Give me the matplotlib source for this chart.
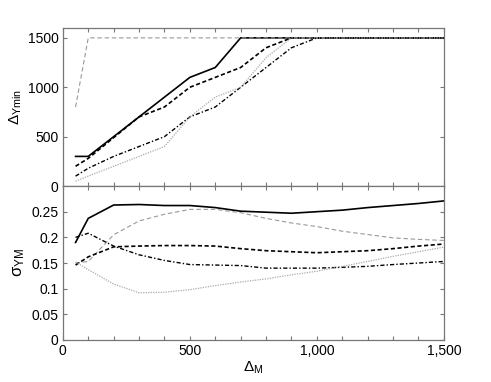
import matplotlib
matplotlib.use("Agg")
import matplotlib.pyplot as plt
from matplotlib.ticker import FixedLocator

plt.rcParams['font.family'] = ['Liberation Sans', 'DejaVu Sans']
plt.rcParams['mathtext.fontset'] = 'custom'
plt.rcParams['mathtext.rm'] = 'Liberation Sans'
plt.rcParams['mathtext.it'] = 'Liberation Sans'
plt.rcParams['mathtext.bf'] = 'Liberation Sans'

x = [50, 100, 200, 300, 400, 500, 600, 700, 800, 900, 1000, 1100, 1200, 1300, 1400, 1500]

# Top panel: Delta_Ymin
top_solid = [300, 300, 500, 700, 900, 1100, 1200, 1500, 1500, 1500, 1500, 1500, 1500, 1500, 1500, 1500]
top_gray_dashed = [800, 1500, 1500, 1500, 1500, 1500, 1500, 1500, 1500, 1500, 1500, 1500, 1500, 1500, 1500, 1500]
top_dashed = [200, 280, 490, 700, 800, 1000, 1100, 1200, 1400, 1500, 1500, 1500, 1500, 1500, 1500, 1500]
top_dashdot = [100, 180, 300, 400, 500, 700, 800, 1000, 1200, 1400, 1500, 1500, 1500, 1500, 1500, 1500]
top_dotted = [50, 100, 200, 300, 400, 700, 900, 1000, 1300, 1500, 1500, 1500, 1500, 1500, 1500, 1500]

# Bottom panel: sigma_YM
bot_solid = [0.19, 0.237, 0.263, 0.264, 0.262, 0.262, 0.258, 0.251, 0.249, 0.247, 0.25, 0.253, 0.258, 0.262, 0.266, 0.271]
bot_gray_dashed = [0.15, 0.153, 0.205, 0.232, 0.245, 0.2545, 0.2545, 0.248, 0.237, 0.228, 0.221, 0.212, 0.2055, 0.199, 0.196, 0.194]
bot_dashed = [0.146, 0.162, 0.1815, 0.183, 0.184, 0.184, 0.183, 0.178, 0.174, 0.172, 0.170, 0.172, 0.174, 0.178, 0.183, 0.187]
bot_dashdot = [0.200, 0.208, 0.183, 0.166, 0.155, 0.147, 0.146, 0.145, 0.140, 0.140, 0.140, 0.1416, 0.1435, 0.147, 0.150, 0.153]
bot_dotted = [0.152, 0.137, 0.109, 0.092, 0.093, 0.098, 0.106, 0.113, 0.119, 0.127, 0.134, 0.1435, 0.153, 0.163, 0.172, 0.181]

top_yticks = [0, 500, 1000, 1500]
bot_yticks = [0, 0.05, 0.1, 0.15, 0.2, 0.25]
bot_yticklabels = ['0', '0.05', '0.1', '0.15', '0.2', '0.25']
xticks_major = [0, 500, 1000, 1500]
xticklabels = ['0', '500', '1,000', '1,500']
xticks_minor = list(range(0, 1600, 100))

fig = plt.figure(figsize=(4.91, 3.82), dpi=100)
ax1 = fig.add_axes([0.128, 0.513, 0.776, 0.4137])
ax2 = fig.add_axes([0.128, 0.110, 0.776, 0.403])

styles = [
    dict(color='black', lw=1.2, ls='-'),
    dict(color='#999999', lw=0.8, ls=(0, (4, 2.5))),
    dict(color='black', lw=1.2, ls=(0, (2.5, 1.5))),
    dict(color='black', lw=1.0, ls=(0, (3, 1.5, 1, 1.5))),
    dict(color='#aaaaaa', lw=0.9, ls=(0, (1, 1))),
]

for ys, st in zip([top_solid, top_gray_dashed, top_dashed, top_dashdot, top_dotted], styles):
    ax1.plot(x, ys, **st)
for ys, st in zip([bot_solid, bot_gray_dashed, bot_dashed, bot_dashdot, bot_dotted], styles):
    ax2.plot(x, ys, **st)

for ax in (ax1, ax2):
    ax.set_xlim(0, 1500)
    ax.set_xticks(xticks_major)
    ax.xaxis.set_minor_locator(FixedLocator(xticks_minor))
    ax.tick_params(axis='both', which='both', direction='in', top=True, right=True,
                   length=3, width=0.8, color='#777777', labelsize=10, pad=3)
    for s in ax.spines.values():
        s.set_color('#777777')
        s.set_linewidth(0.9)

ax1.set_ylim(0, 1600)
ax1.set_yticks(top_yticks)
ax1.set_xticklabels([])
ax1.set_ylabel(r'$\Delta_{\mathrm{Ymin}}$', fontsize=11, labelpad=3)

ax2.set_ylim(0, 0.3)
ax2.set_yticks(bot_yticks)
ax2.set_yticklabels(bot_yticklabels)
ax2.set_xticklabels(xticklabels)
ax2.set_ylabel(r'$\sigma_{\mathrm{YM}}$', fontsize=12, labelpad=3)
ax2.set_xlabel(r'$\Delta_{\mathrm{M}}$', fontsize=11, labelpad=1)

fig.savefig('out.png', dpi=100)
